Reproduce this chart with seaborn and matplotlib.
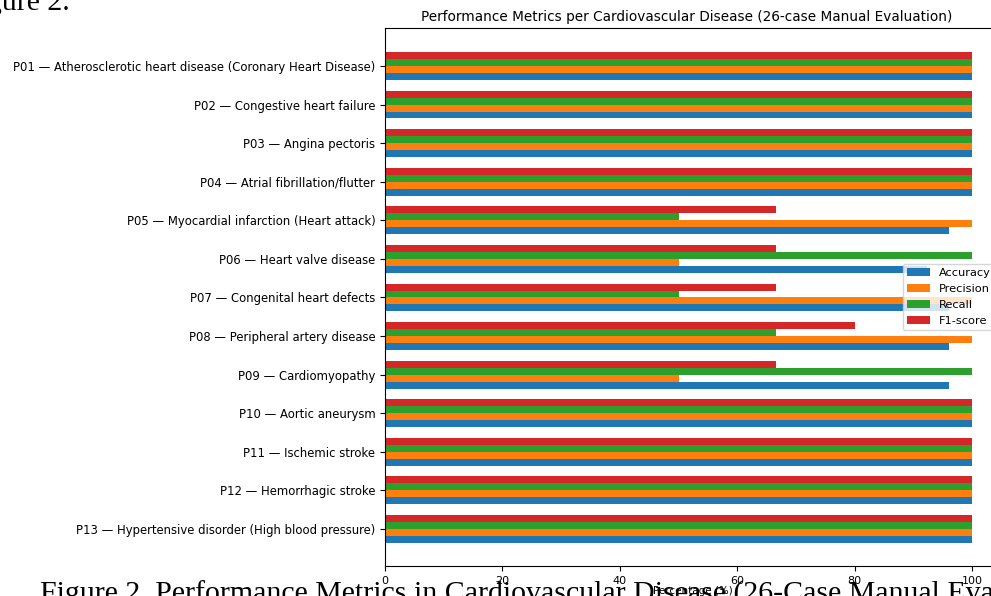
import pandas as pd
import seaborn as sns
import matplotlib.pyplot as plt

# Data (percent, 26 cases)
diseases = [
    "P01 — Atherosclerotic heart disease (Coronary Heart Disease)",
    "P02 — Congestive heart failure",
    "P03 — Angina pectoris",
    "P04 — Atrial fibrillation/flutter",
    "P05 — Myocardial infarction (Heart attack)",
    "P06 — Heart valve disease",
    "P07 — Congenital heart defects",
    "P08 — Peripheral artery disease",
    "P09 — Cardiomyopathy",
    "P10 — Aortic aneurysm",
    "P11 — Ischemic stroke",
    "P12 — Hemorrhagic stroke",
    "P13 — Hypertensive disorder (High blood pressure)",
]
accuracy = [100, 100, 100, 100, 96.15, 92.31, 96.15, 96.15, 96.15, 100, 100, 100, 100]
precision = [100, 100, 100, 100, 100, 50, 100, 100, 50, 100, 100, 100, 100]
recall = [100, 100, 100, 100, 50, 100, 50, 66.67, 100, 100, 100, 100, 100]
f1_score = [100, 100, 100, 100, 66.67, 66.67, 66.67, 80, 66.67, 100, 100, 100, 100]

metrics = ["Accuracy", "Precision", "Recall", "F1-score"]
colors = {"Accuracy": "#1f77b4", "Precision": "#ff7f0e",
          "Recall": "#2ca02c", "F1-score": "#d62728"}

# Long-form frame for seaborn
df = pd.DataFrame({"Disease": diseases, "Accuracy": accuracy, "Precision": precision,
                   "Recall": recall, "F1-score": f1_score})
df_long = df.melt(id_vars="Disease", var_name="Metric", value_name="Percentage")

fig = plt.figure(figsize=(9.91, 5.96), dpi=100)
ax = fig.add_axes([385 / 991, 1 - 566 / 596, 616.4 / 991, 538 / 596])

sns.barplot(data=df_long, y="Disease", x="Percentage", hue="Metric",
            hue_order=metrics[::-1], palette=colors, orient="h",
            width=0.72, gap=0, saturation=1, errorbar=None, ax=ax)

ax.set_xlim(0, 105)
ax.set_ylim(12.96, -0.985)
ax.set_ylabel("")
ax.set_xlabel("Percentage (%)", fontsize=7.5, labelpad=0)
ax.tick_params(axis="y", labelsize=8.4)
ax.tick_params(axis="x", labelsize=8)
ax.set_title("Performance Metrics per Cardiovascular Disease (26-case Manual Evaluation)",
             fontsize=9.8, pad=5, x=0.489)

# Legend in Accuracy, Precision, Recall, F1-score order
handles, labels = ax.get_legend_handles_labels()
order = [labels.index(m) for m in metrics]
ax.legend([handles[i] for i in order], metrics, loc="center right", fontsize=8.2)

# Surrounding document text
fig.text(-38 / 991, 1 - 10 / 596, "Figure 2.", family="Liberation Serif",
         fontsize=21.5, va="baseline", ha="left")
fig.text(40 / 991, -6 / 596,
         "Figure 2. Performance Metrics in Cardiovascular Disease (26-Case Manual Evaluation)",
         family="Liberation Serif", fontsize=21.5, va="baseline", ha="left")

fig.savefig("out.png", dpi=100)
